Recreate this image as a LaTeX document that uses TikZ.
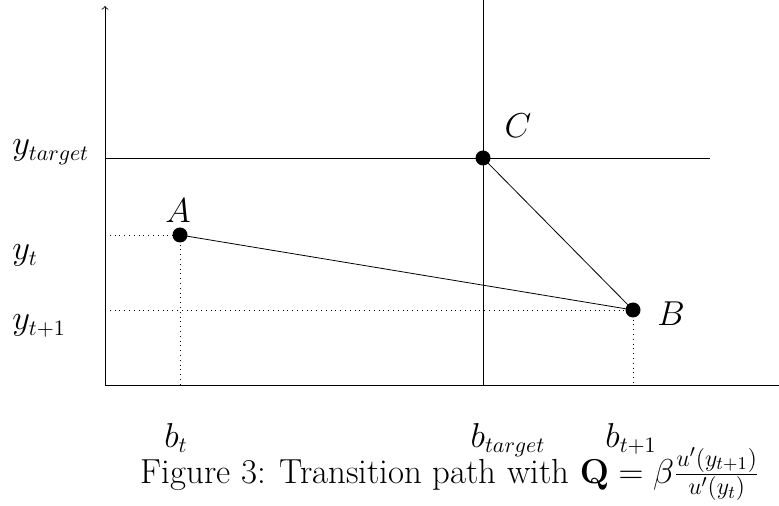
\documentclass[tikz,border=0pt]{standalone}
\usepackage{amsmath}
\begin{document}
\begin{tikzpicture}[x=0.5pt,y=-0.5pt,
  dot/.style={circle,fill=black,inner sep=0pt,minimum size=7.5pt},
  lbl/.style={font=\fontsize{16}{19}\selectfont,inner sep=0pt,anchor=base},
  guide/.style={dotted}]
\useasboundingbox (0,0) rectangle (779,506);
% axes
\coordinate (O) at (105,385);
\coordinate (ytop) at (105,6);
\coordinate (xend) at (779,385);
\draw[->] (O) -- (ytop);
\draw (O) -- (xend);
% target lines
\coordinate (vtop) at (483,0);
\coordinate (vbot) at (483,385);
\coordinate (hl) at (105,158);
\coordinate (hr) at (710,158);
\draw (vbot) -- (vtop);
\draw (hl) -- (hr);
% points
\node[dot] (A) at (180,235) {};
\node[dot] (B) at (633,310) {};
\node[dot] (C) at (483,158) {};
% guides
\coordinate (Ay) at (105,235);
\coordinate (Ax) at (180,385);
\coordinate (By) at (105,310);
\coordinate (Bx) at (633,385);
\draw[guide] (Ay) -- (A.center);
\draw[guide] (A.center) -- (Ax);
\draw[guide] (By) -- (B.center);
\draw[guide] (B.center) -- (Bx);
% path
\draw (A.center) -- (B.center);
\draw (C.center) -- (B.center);
% labels
\node[lbl] (lA) at (178,223) {$A$};
\node[lbl] (lB) at (671,326) {$B$};
\node[lbl] (lC) at (518,138) {$C$};
\node[lbl,anchor=base west] (ly1) at (12,155) {$y_{target}$};
\node[lbl,anchor=base west] (ly2) at (12,260) {$y_t$};
\node[lbl,anchor=base west] (ly3) at (12,330) {$y_{t+1}$};
\node[lbl] (lb1) at (176,447) {$b_t$};
\node[lbl] (lb2) at (508,447) {$b_{target}$};
\node[lbl] (lb3) at (631,447) {$b_{t+1}$};
\node[lbl,font=\fontsize{17.4}{20}\selectfont] (cap) at (450,483) {Figure 3: Transition path with $\mathbf{Q}=\beta\frac{u'(y_{t+1})}{u'(y_t)}$};
\end{tikzpicture}
\end{document}
